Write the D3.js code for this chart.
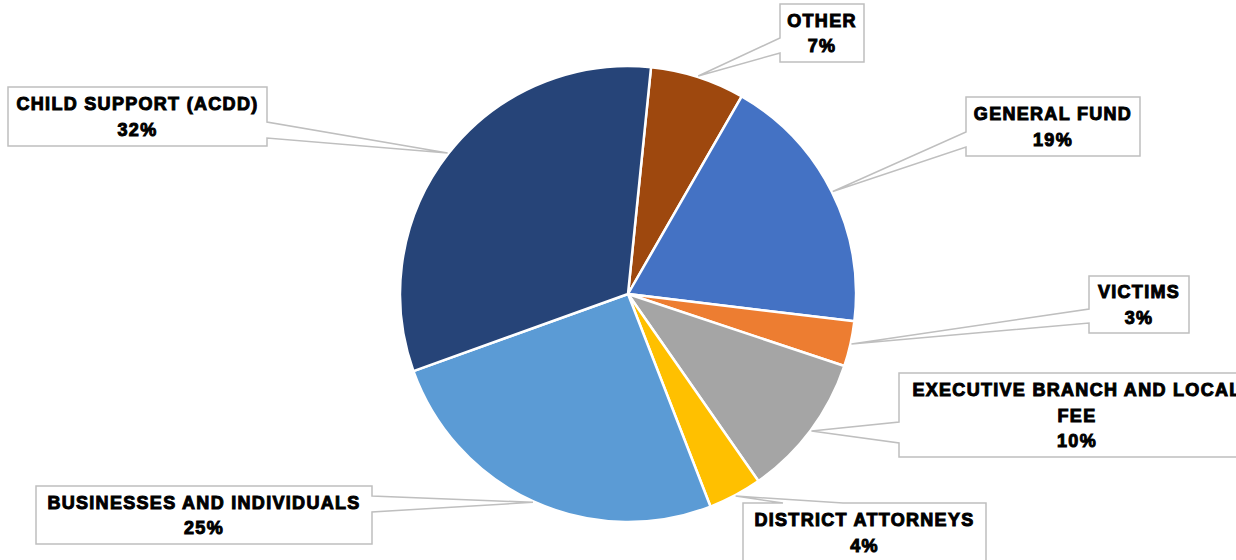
<!DOCTYPE html>
<html>
<head>
<meta charset="utf-8">
<script src="https://cdn.jsdelivr.net/npm/d3@7"></script>
<style>
  html, body { margin: 0; padding: 0; background: #ffffff; }
  svg { display: block; }
</style>
</head>
<body>
<svg id="chart" width="1236" height="560"></svg>
<script>
// ---- data (clockwise from top) ----
const categories = ["OTHER", "GENERAL FUND", "VICTIMS", "EXECUTIVE BRANCH AND LOCAL FEE",
                    "DISTRICT ATTORNEYS", "BUSINESSES AND INDIVIDUALS", "CHILD SUPPORT (ACDD)"];
const shares = [6.7, 18.6, 3.2, 10.2, 3.8, 25.4, 32.1];
const labelLines = [["OTHER"], ["GENERAL FUND"], ["VICTIMS"], ["EXECUTIVE BRANCH AND LOCAL", "FEE"],
                    ["DISTRICT ATTORNEYS"], ["BUSINESSES AND INDIVIDUALS"], ["CHILD SUPPORT (ACDD)"]];
const colors = ["#9E480E", "#4472C4", "#ED7D31", "#A5A5A5", "#FFC000", "#5B9BD5", "#264478"];

// ---- layout (callout boxes) ----
const boxes = [
  {x: 780, y: 4,   w: 84,  h: 58, side: "left",  b1: 34, b2: 49},
  {x: 966, y: 97,  w: 174, h: 59, side: "left",  b1: 35, b2: 50},
  {x: 1089,y: 276, w: 100, h: 57, side: "left",  b1: 33, b2: 47},
  {x: 899, y: 373, w: 356, h: 84, side: "left",  b1: 49, b2: 70},
  {x: 743, y: 503, w: 243, h: 59, side: "top",   b1: 40, b2: 100},
  {x: 36,  y: 486, w: 336, h: 58, side: "right", b1: 10, b2: 26},
  {x: 8,   y: 87,  w: 259, h: 59, side: "right", b1: 35, b2: 51}
];

const cx = 628, cy = 294, R = 228;
const startOffset = 5.8 * Math.PI / 180;

const svg = d3.select("#chart");
const g = svg.append("g").attr("transform", `translate(${cx},${cy})`);

const total = d3.sum(shares);
const pie = d3.pie().sort(null).value(d => d)
  .startAngle(startOffset).endAngle(startOffset + 2 * Math.PI);
const arcs = pie(shares);
const arc = d3.arc().innerRadius(0).outerRadius(R);

g.selectAll("path.slice").data(arcs).enter().append("path")
  .attr("class", "slice")
  .attr("d", arc)
  .attr("fill", (d, i) => colors[i])
  .attr("stroke", "#ffffff")
  .attr("stroke-width", 2.5)
  .attr("stroke-linejoin", "round");

// ---- callouts ----
function calloutPath(b, tip) {
  const p = d3.path();
  const {x, y, w, h, side, b1, b2} = b;
  p.moveTo(x, y);
  if (side === "top") { p.lineTo(x + b1, y); p.lineTo(tip[0], tip[1]); p.lineTo(x + b2, y); }
  p.lineTo(x + w, y);
  if (side === "right") { p.lineTo(x + w, y + b1); p.lineTo(tip[0], tip[1]); p.lineTo(x + w, y + b2); }
  p.lineTo(x + w, y + h);
  p.lineTo(x, y + h);
  if (side === "left") { p.lineTo(x, y + b2); p.lineTo(tip[0], tip[1]); p.lineTo(x, y + b1); }
  p.closePath();
  return p.toString();
}

const lineH = 25.5;
arcs.forEach((a, i) => {
  const mid = (a.startAngle + a.endAngle) / 2;
  const tip = [cx + (R + 1) * Math.sin(mid), cy - (R + 1) * Math.cos(mid)];
  const b = boxes[i];
  svg.append("path")
    .attr("d", calloutPath(b, tip))
    .attr("fill", "#ffffff")
    .attr("stroke", "#BFBFBF")
    .attr("stroke-width", 1.5)
    .attr("stroke-linejoin", "miter");

  const pct = Math.round(shares[i] / total * 100) + "%";
  const lines = labelLines[i].concat([pct]);
  const midY = b.y + b.h / 2;
  const firstCenter = midY - (lines.length - 1) * lineH / 2;
  const t = svg.append("text")
    .attr("text-anchor", "middle")
    .attr("font-family", "'Liberation Sans', Arial, sans-serif")
    .attr("font-weight", "bold")
    .attr("font-size", 18)
    .attr("letter-spacing", 1.3)
    .attr("fill", "#000000")
    .attr("stroke", "#000000")
    .attr("stroke-width", 1.0);
  lines.forEach((ln, k) => {
    t.append("tspan")
      .attr("x", b.x + b.w / 2)
      .attr("y", firstCenter + k * lineH + 6.5)
      .text(ln);
  });
});
</script>
</body>
</html>
